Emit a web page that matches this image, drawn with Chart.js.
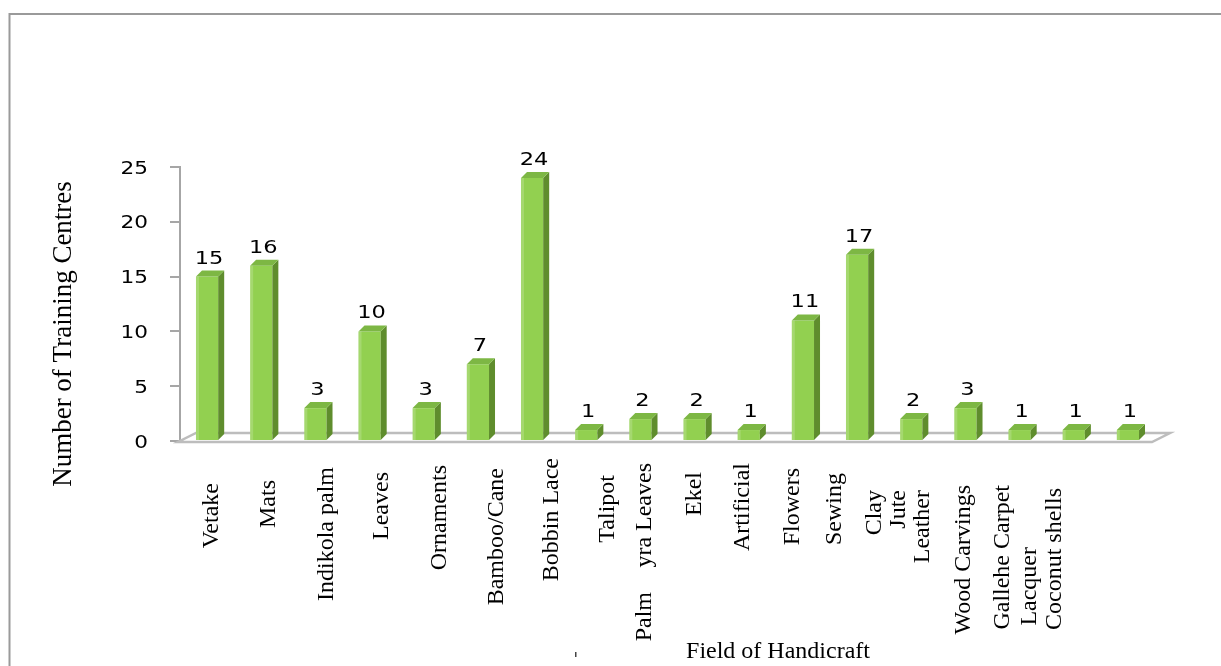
<!DOCTYPE html>
<html>
<head>
<meta charset="utf-8">
<script src="https://cdn.jsdelivr.net/npm/chart.js@4/dist/chart.umd.min.js"></script>
<style>
  body { margin: 0; background: #fff; }
  #wrap { width: 1221px; height: 666px; position: relative; }
</style>
</head>
<body>
<div id="wrap"><canvas id="chart" width="1221" height="666"></canvas></div>
<script>
// bar categories and values
const categories = ['Vetake', 'Mats', 'Indikola palm', 'Leaves', 'Ornaments', 'Bamboo/Cane', 'Bobbin Lace',
    'Talipot', 'Palmyra Leaves', 'Ekel', 'Artificial', 'Flowers', 'Sewing', 'Clay', 'Jute/Leather',
    'Wood Carvings', 'Gallehe Carpet/Lacquer', 'Coconut shells'];
const centres = [15, 16, 3, 10, 3, 7, 24, 1, 2, 2, 1, 11, 17, 2, 3, 1, 1, 1];
const yTicks = [0, 5, 10, 15, 20, 25];

// the text pieces under the axis, as they stand in the picture
const axisTexts = ['Vetake', 'Mats', 'Indikola palm', 'Leaves', 'Ornaments', 'Bamboo/Cane', 'Bobbin Lace',
    'Talipot', 'yra Leaves', 'Palm', 'Ekel', 'Artificial', 'Flowers', 'Sewing', 'Clay', 'Jute', 'Leather',
    'Wood Carvings', 'Gallehe Carpet', 'Lacquer', 'Coconut shells'];
const yTitle = 'Number of Training Centres';
const xTitle = 'Field of Handicraft';

// layout of those texts: slot (in category units from the first bar) and top of the text
const textSlot = [0.09, 1.13, 2.2, 3.23, 4.29, 5.34, 6.36, 7.39, 8.08, 8.08, 9.0, 9.89, 10.81, 11.59,
    12.33, 12.77, 13.22, 13.96, 14.69, 15.18, 15.64];
const textTop = [483, 480, 467, 472, 465, 468, 458, 475, 463, 592, 472, 463, 468, 473, 490, 490, 490,
    485, 485, 547, 488];

const SERIF = '"Liberation Serif", "Times New Roman", serif';
const SANS = '"DejaVu Sans", Verdana, sans-serif';

function stretchedText(ctx, txt, x, y, sx) {
    ctx.save();
    ctx.translate(x, y);
    ctx.scale(sx, 1);
    ctx.fillText(txt, 0, 0);
    ctx.restore();
}

const decor = {
    id: 'decor',
    beforeDraw(chart) {
        const ctx = chart.ctx;
        ctx.save();
        // picture frame
        ctx.strokeStyle = '#9a9a9a';
        ctx.lineWidth = 2;
        ctx.beginPath();
        ctx.moveTo(9.5, 666);
        ctx.lineTo(9.5, 14);
        ctx.lineTo(1221, 14);
        ctx.stroke();
        ctx.restore();
    },
    beforeDatasetsDraw(chart) {
        const ctx = chart.ctx, a = chart.chartArea;
        const L = a.left, R = a.right, B = a.bottom;
        // floor of the 3d plot
        ctx.save();
        ctx.fillStyle = '#ffffff';
        ctx.strokeStyle = '#bdbdbd';
        ctx.lineWidth = 2.5;
        ctx.beginPath();
        ctx.moveTo(L - 2, B + 1);
        ctx.lineTo(R - 3, B + 1);
        ctx.lineTo(R + 15, B - 8);
        ctx.lineTo(L + 16, B - 8);
        ctx.closePath();
        ctx.fill();
        ctx.stroke();
        ctx.restore();
    },
    afterDatasetsDraw(chart) {
        const ctx = chart.ctx;
        const meta = chart.getDatasetMeta(0);
        const dx = 6, dy = 6;
        ctx.save();
        meta.data.forEach((bar, i) => {
            const l = bar.x - bar.width / 2, r = bar.x + bar.width / 2;
            const t = bar.y, b = bar.base;
            // side face
            ctx.fillStyle = '#5f8d2d';
            ctx.beginPath();
            ctx.moveTo(r, t);
            ctx.lineTo(r + dx, t - dy);
            ctx.lineTo(r + dx, b - dy);
            ctx.lineTo(r, b);
            ctx.closePath();
            ctx.fill();
            // top face
            ctx.fillStyle = '#7db744';
            ctx.beginPath();
            ctx.moveTo(l, t);
            ctx.lineTo(l + dx, t - dy);
            ctx.lineTo(r + dx, t - dy);
            ctx.lineTo(r, t);
            ctx.closePath();
            ctx.fill();
            // light edge of the front face
            ctx.fillStyle = 'rgba(255,255,255,0.18)';
            ctx.fillRect(l, t, 3, b - t);
            // value label
            ctx.fillStyle = '#000';
            ctx.font = '18px ' + SANS;
            ctx.textAlign = 'center';
            ctx.textBaseline = 'alphabetic';
            stretchedText(ctx, String(centres[i]), bar.x + 2, t - 13, 1.25);
        });
        ctx.restore();
    },
    afterDraw(chart) {
        const ctx = chart.ctx;
        const x = chart.scales.x, y = chart.scales.y;
        ctx.save();
        // y tick labels
        ctx.fillStyle = '#000';
        ctx.font = '18px ' + SANS;
        ctx.textAlign = 'right';
        ctx.textBaseline = 'middle';
        yTicks.forEach(v => {
            ctx.save();
            ctx.translate(y.right - 32, y.getPixelForValue(v) + 2);
            ctx.scale(1.2, 1);
            ctx.fillText(String(v), 0, 0);
            ctx.restore();
        });
        // category texts, rotated
        const step = x.getPixelForValue(1) - x.getPixelForValue(0);
        ctx.font = '24px ' + SERIF;
        ctx.textAlign = 'right';
        ctx.textBaseline = 'middle';
        axisTexts.forEach((txt, i) => {
            ctx.save();
            ctx.translate(x.getPixelForValue(0) + textSlot[i] * step, textTop[i]);
            ctx.rotate(-Math.PI / 2);
            ctx.fillText(txt, 0, 0);
            ctx.restore();
        });
        // axis titles
        ctx.save();
        ctx.font = '27px ' + SERIF;
        ctx.textAlign = 'center';
        ctx.translate(64, 334);
        ctx.rotate(-Math.PI / 2);
        ctx.fillText(yTitle, 0, 0);
        ctx.restore();
        ctx.font = '24px ' + SERIF;
        ctx.textAlign = 'center';
        ctx.textBaseline = 'alphabetic';
        ctx.fillText(xTitle, 778, 658);
        // small stray mark left of the title
        ctx.fillStyle = '#444';
        ctx.fillRect(575, 652, 1.5, 5);
        ctx.restore();
    }
};

new Chart(document.getElementById('chart'), {
    type: 'bar',
    data: {
        labels: categories,
        datasets: [{
            label: yTitle,
            data: centres,
            backgroundColor: '#92d050',
            borderWidth: 0,
            barPercentage: 0.41,
            categoryPercentage: 1
        }]
    },
    options: {
        responsive: false,
        animation: false,
        devicePixelRatio: 1,
        layout: { padding: { left: 0, top: 167, right: 66, bottom: 225 } },
        plugins: {
            legend: { display: false },
            tooltip: { enabled: false }
        },
        scales: {
            x: {
                display: false
            },
            y: {
                min: 0,
                max: 25,
                afterFit: s => { s.width = 180; },
                afterBuildTicks: s => { s.ticks = yTicks.map(v => ({ value: v })); },
                ticks: { display: false },
                grid: {
                    drawOnChartArea: false,
                    drawTicks: true,
                    tickLength: 10,
                    color: '#a6a6a6',
                    lineWidth: 2
                },
                border: { display: true, color: '#a6a6a6', width: 2 }
            }
        }
    },
    plugins: [decor]
});
</script>
</body>
</html>
